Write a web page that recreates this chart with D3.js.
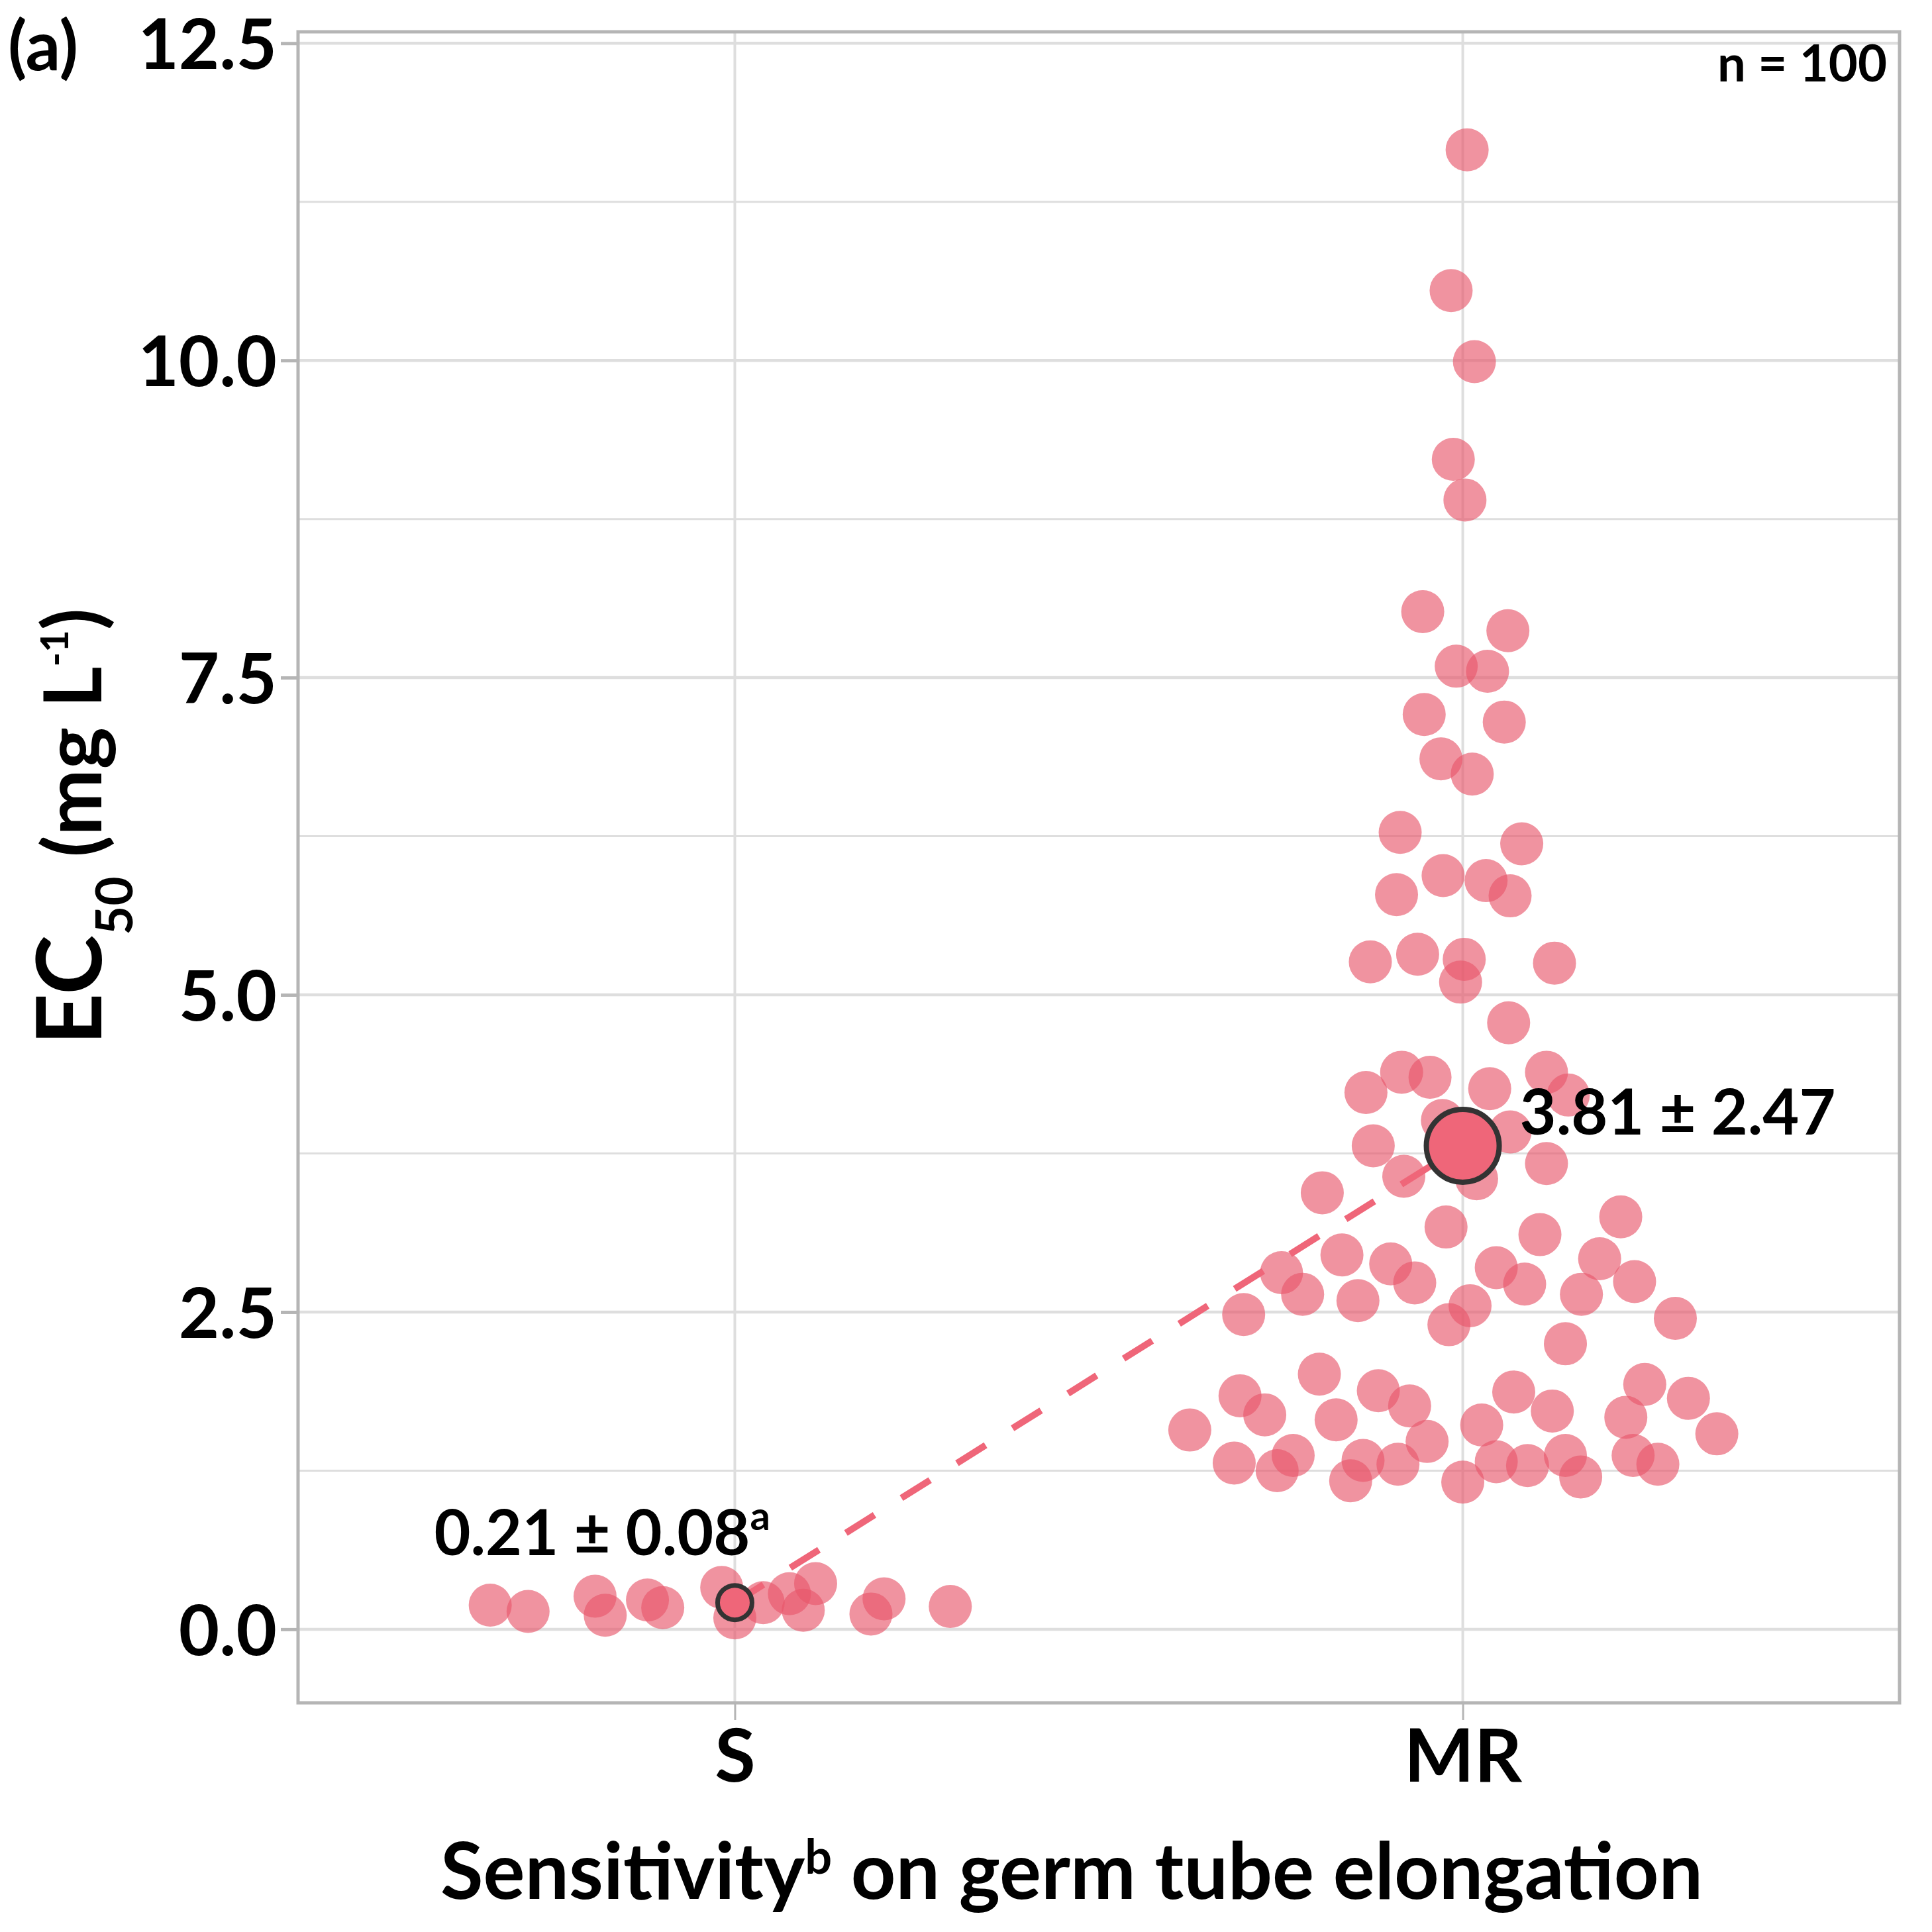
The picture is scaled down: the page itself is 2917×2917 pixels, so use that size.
<!DOCTYPE html>
<html>
<head>
<meta charset="utf-8">
<script src="https://cdn.jsdelivr.net/npm/d3@7"></script>
<style>
  html, body { margin: 0; padding: 0; background: #fff; }
  text { font-family: Lato, "Open Sans", sans-serif; font-weight: 700; fill: #000; }
</style>
</head>
<body>
<svg id="chart"></svg>
<script>
// categories and values (EC50, mg/L)
const categories = ["S", "MR"];

const valuesS = [0.19, 0.14, 0.26, 0.11, 0.23, 0.17, 0.33, 0.09, 0.21, 0.28, 0.15, 0.36, 0.12, 0.24, 0.18];
// horizontal jitter, in units of the category step
const jitterS = [-0.336, -0.284, -0.192, -0.178, -0.120, -0.099, -0.018, 0.000, 0.039, 0.075, 0.094, 0.111, 0.187, 0.205, 0.296];

const valuesMR = [11.66, 10.55, 9.99, 9.22, 8.90, 8.02, 7.87, 7.59, 7.55, 7.21, 7.15, 6.86, 6.74, 6.28, 6.19,
  5.94, 5.90, 5.79, 5.78, 5.26, 5.32, 5.28, 5.10, 5.25, 4.78, 4.39, 4.35, 4.23, 4.26, 4.39,
  4.21, 4.01, 3.81, 3.92, 3.67, 3.57, 3.55, 3.44, 3.17, 3.11, 3.25, 2.95, 2.88, 2.92, 2.81,
  2.64, 2.59, 2.73, 2.48, 2.55, 2.40, 2.85, 2.72, 2.74, 2.64, 2.45, 2.25, 2.01, 1.84, 1.69,
  1.57, 1.65, 1.88, 1.76, 1.48, 1.31, 1.37, 1.25, 1.33, 1.17, 1.30, 1.16, 1.87, 1.72, 1.61,
  1.93, 1.82, 1.67, 1.54, 1.32, 1.29, 1.37, 1.20, 1.37, 1.30];
const jitterMR = [0.006, -0.016, 0.016, -0.013, 0.003, -0.055, 0.062, -0.009, 0.034, -0.053, 0.057, -0.030, 0.013, -0.086, 0.081,
  -0.027, 0.032, -0.091, 0.065, -0.127, -0.062, 0.002, -0.003, 0.126, 0.063, -0.084, -0.045, -0.133, 0.037, 0.115,
  0.145, -0.028, -0.123, 0.065, 0.115, -0.081, 0.019, -0.193, -0.023, 0.106, 0.217, -0.166, -0.099, 0.188, -0.249,
  -0.220, -0.144, -0.066, -0.301, 0.010, -0.019, 0.046, 0.085, 0.236, 0.163, 0.292, 0.141, -0.197, -0.306, -0.272,
  -0.375, -0.174, -0.116, -0.073, -0.049, -0.314, -0.233, -0.255, -0.137, -0.154, -0.089, 0.000, 0.070, 0.123, 0.026,
  0.250, 0.310, 0.224, 0.349, 0.046, 0.089, 0.141, 0.162, 0.234, 0.268];

const groupMeans = [0.21, 3.81];
const groupSD = [0.08, 2.47];
const groupLetters = ["a", ""];
const sampleSize = 100;

const yDomain = [-0.58, 12.59];
const yMajorTicks = [0, 2.5, 5, 7.5, 10, 12.5];
const yMinorTicks = [1.25, 3.75, 6.25, 8.75, 11.25];

// layout
const width = 2917, height = 2917;
const margin = { top: 48, right: 49, bottom: 346, left: 450 };
const plotW = width - margin.left - margin.right;
const plotH = height - margin.top - margin.bottom;

const pointColor = "#e8566a";
const meanColor = "#ef6679";
const gridColor = "#dedede";
const axisColor = "#b5b5b5";

const svg = d3.select("#chart")
  .attr("width", width)
  .attr("height", height);

const g = svg.append("g")
  .attr("transform", "translate(" + margin.left + "," + margin.top + ")");

const x = d3.scalePoint().domain(categories).range([0, plotW]).padding(0.6);
const y = d3.scaleLinear().domain(yDomain).range([plotH, 0]);

// minor grid
g.append("g")
  .selectAll("line")
  .data(yMinorTicks)
  .enter().append("line")
  .attr("x1", 0).attr("x2", plotW)
  .attr("y1", d => y(d)).attr("y2", d => y(d))
  .attr("stroke", gridColor).attr("stroke-width", 3);

// major grid
g.append("g")
  .selectAll("line")
  .data(yMajorTicks)
  .enter().append("line")
  .attr("x1", 0).attr("x2", plotW)
  .attr("y1", d => y(d)).attr("y2", d => y(d))
  .attr("stroke", gridColor).attr("stroke-width", 4.5);

// vertical grid at categories
g.append("g")
  .selectAll("line")
  .data(categories)
  .enter().append("line")
  .attr("x1", d => x(d)).attr("x2", d => x(d))
  .attr("y1", 0).attr("y2", plotH)
  .attr("stroke", gridColor).attr("stroke-width", 4);

// frame
g.append("rect")
  .attr("width", plotW).attr("height", plotH)
  .attr("fill", "none")
  .attr("stroke", axisColor).attr("stroke-width", 5);

// y axis
const yAxis = g.append("g")
  .call(d3.axisLeft(y).tickValues(yMajorTicks).tickSize(26).tickPadding(6).tickFormat(d3.format(".1f")));
yAxis.select(".domain").remove();
yAxis.selectAll(".tick line").attr("stroke", axisColor).attr("stroke-width", 5);
yAxis.selectAll(".tick text")
  .attr("font-size", 106)
  .attr("dy", "0.36em")
  .style("font-family", "Lato, sans-serif")
  .style("font-weight", 700)
  .attr("fill", "#000");

// x axis
const xAxis = g.append("g")
  .attr("transform", "translate(0," + plotH + ")")
  .call(d3.axisBottom(x).tickSize(26).tickPadding(0));
xAxis.select(".domain").remove();
xAxis.selectAll(".tick line").attr("stroke", axisColor).attr("stroke-width", 3);
xAxis.selectAll(".tick text")
  .attr("y", 119)
  .attr("dy", 0)
  .attr("font-size", 112)
  .style("font-family", "Lato, sans-serif")
  .style("font-weight", 700)
  .attr("fill", "#000");

// points
const points = [];
valuesS.forEach((v, i) => points.push({ cat: "S", value: v, jitter: jitterS[i] }));
valuesMR.forEach((v, i) => points.push({ cat: "MR", value: v, jitter: jitterMR[i] }));

g.append("g")
  .selectAll("circle")
  .data(points)
  .enter().append("circle")
  .attr("cx", d => x(d.cat) + d.jitter * x.step())
  .attr("cy", d => y(d.value))
  .attr("r", 32.5)
  .attr("fill", pointColor)
  .attr("fill-opacity", 0.64);

// dashed line between means
const meanPts = categories.map((c, i) => ({ cat: c, mean: groupMeans[i], sd: groupSD[i], letter: groupLetters[i] }));

g.append("path")
  .datum(meanPts)
  .attr("d", d3.line().x(d => x(d.cat)).y(d => y(d.mean)))
  .attr("fill", "none")
  .attr("stroke", meanColor)
  .attr("stroke-width", 10)
  .attr("stroke-dasharray", "51 48");

// mean markers
const meanRadius = [26, 55];
const meanStroke = [7, 8];
g.append("g")
  .selectAll("circle")
  .data(meanPts)
  .enter().append("circle")
  .attr("cx", d => x(d.cat))
  .attr("cy", d => y(d.mean))
  .attr("r", (d, i) => meanRadius[i])
  .attr("fill", meanColor)
  .attr("stroke", "#333")
  .attr("stroke-width", (d, i) => meanStroke[i]);

// mean labels
const labelOffset = [[-454, -72], [86, -17]];
const labelSize = [95, 95];
const meanLabels = g.append("g")
  .selectAll("text")
  .data(meanPts)
  .enter().append("text")
  .attr("x", (d, i) => x(d.cat) + labelOffset[i][0])
  .attr("y", (d, i) => y(d.mean) + labelOffset[i][1])
  .attr("font-size", (d, i) => labelSize[i]);
meanLabels.append("tspan")
  .text(d => d3.format(".2f")(d.mean) + " \u00B1 " + d3.format(".2f")(d.sd));
meanLabels.filter(d => d.letter)
  .append("tspan")
  .attr("dy", -38)
  .attr("font-size", 60)
  .text(d => d.letter);

// n label
g.append("text")
  .attr("x", plotW - 19)
  .attr("y", 75)
  .attr("text-anchor", "end")
  .attr("font-size", 76)
  .text("n = " + sampleSize);

// panel label
svg.append("text")
  .attr("x", 12)
  .attr("y", 106)
  .attr("font-size", 104)
  .text("(a)");

// x axis title
const xTitle = svg.append("text")
  .attr("x", 1618)
  .attr("y", 2867)
  .attr("text-anchor", "middle")
  .attr("font-size", 118);
xTitle.append("tspan").text("Sensitivity");
xTitle.append("tspan").attr("dy", -38).attr("font-size", 72).text("b");
xTitle.append("tspan").attr("dy", 38).text(" on germ tube elongation");

// y axis title
const yTitle = svg.append("text")
  .attr("transform", "translate(153,1248) rotate(-90)")
  .attr("text-anchor", "middle")
  .attr("font-size", 120);
yTitle.append("tspan").attr("font-size", 136).text("EC");
yTitle.append("tspan").attr("dy", 47).attr("font-size", 76).text("50");
yTitle.append("tspan").attr("dy", -47).text(" (mg L");
yTitle.append("tspan").attr("dy", -50).attr("font-size", 58).text("-1");
yTitle.append("tspan").attr("dy", 50).text(")");
</script>
</body>
</html>
